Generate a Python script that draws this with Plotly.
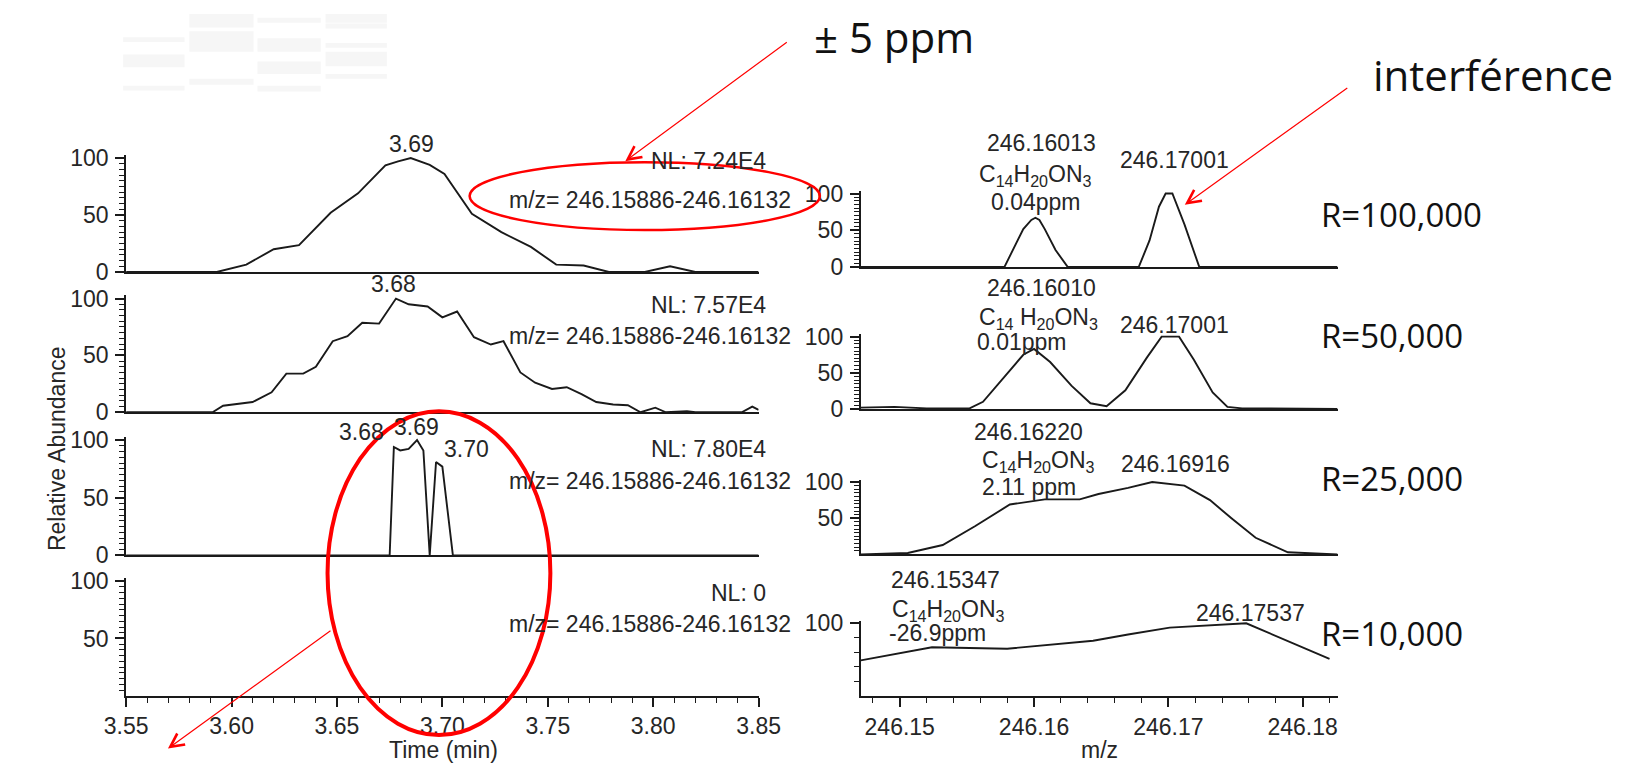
import plotly.graph_objects as go

# ---------------- data ----------------
# Left: extracted ion chromatograms (time in min, relative abundance)
t1 = [3.550, 3.593, 3.607, 3.620, 3.632, 3.647, 3.660, 3.673, 3.679, 3.685, 3.694, 3.701, 3.714, 3.728, 3.742, 3.754, 3.767, 3.779, 3.796, 3.808, 3.820, 3.850]
v1 = [0, 0, 6.5, 20, 23.5, 52, 69, 93.5, 97, 100, 94, 86, 51, 35, 22, 6.5, 5.7, 0, 0, 5, 0, 0]

t2 = [3.550, 3.591, 3.596, 3.610, 3.619, 3.626, 3.634, 3.640, 3.648, 3.655, 3.662, 3.670, 3.678, 3.684, 3.693, 3.700, 3.707, 3.715, 3.723, 3.729, 3.737, 3.744, 3.752, 3.759, 3.766, 3.773, 3.781, 3.788, 3.794, 3.801, 3.806, 3.816, 3.820, 3.842, 3.847, 3.850]
v2 = [0, 0, 5.7, 9, 17.6, 34, 34, 40, 62.5, 67, 78.7, 78, 100, 95, 93, 83.5, 88.6, 66, 59.6, 62.5, 35, 26, 20.5, 22, 16, 9, 6.8, 6.2, 0, 4, 0, 1, 0, 0, 5, 2]

t3 = [3.550, 3.675, 3.677, 3.680, 3.684, 3.688, 3.691, 3.694, 3.697, 3.700, 3.705, 3.850]
v3 = [0, 0, 94, 91, 92.4, 100, 91, 0, 81, 77, 0, 0]

t4 = []
v4 = []

# Right: mass spectra (m/z, relative abundance)
mz1 = [246.1471, 246.1578, 246.1592, 246.1598, 246.1601, 246.1604, 246.1608, 246.1616, 246.1625, 246.1678, 246.1686, 246.1693, 246.1698, 246.1703, 246.1712, 246.1723, 246.1826]
s1 = [0, 0, 51.5, 64, 67, 64, 51.5, 23, 0, 0, 36, 82, 100, 100, 58, 0, 0]

mz2 = [246.1470, 246.1496, 246.1520, 246.1552, 246.1562, 246.1576, 246.1592, 246.1600, 246.1612, 246.1628, 246.1642, 246.1654, 246.1668, 246.1684, 246.1695, 246.1708, 246.1719, 246.1733, 246.1744, 246.1755, 246.1826]
s2 = [2, 3, 1, 1, 10, 41, 75, 83, 65, 32, 8, 4, 26, 71, 100, 100, 68, 23, 3, 1, 0]

mz3 = [246.1471, 246.1506, 246.1532, 246.1556, 246.1582, 246.1608, 246.1634, 246.1648, 246.1670, 246.1688, 246.1712, 246.1731, 246.1747, 246.1765, 246.1789, 246.1826]
s3 = [0, 2, 13, 39, 69, 76, 76, 83.5, 92, 100, 95, 75, 50, 23, 3, 0]

mz4 = [246.1471, 246.1524, 246.1580, 246.1644, 246.1670, 246.1701, 246.1758, 246.1820]
s4 = [49, 67, 65, 76, 84.5, 94, 100, 51]

time_ticks = [3.55, 3.60, 3.65, 3.70, 3.75, 3.80, 3.85]
mz_ticks = [246.15, 246.16, 246.17, 246.18]

nl_labels = ["NL: 7.24E4", "NL: 7.57E4", "NL: 7.80E4", "NL: 0"]
range_label = "m/z= 246.15886-246.16132"
resolutions = ["R=100,000", "R=50,000", "R=25,000", "R=10,000"]
formula = "C<sub>14</sub>H<sub>20</sub>ON<sub>3</sub>"
formula2 = "C<sub>14</sub> H<sub>20</sub>ON<sub>3</sub>"

# ---------------- layout helpers ----------------
W, H = 1633, 780
INK = "#1a1a1a"
TXT = "#262626"
RED = "#ff0000"
FONT = "Liberation Sans, Arial, sans-serif"
BIG = "Open Sans, sans-serif"
TOP = 103.0


def px(x):
    return x / W


def py(y):
    return 1 - y / H


def ydom(px100, px0):
    top = px0 - TOP / 100.0 * (px0 - px100)
    return [py(px0), py(top)]


left_panels = [(151.7, 269.3), (296.7, 414.0), (442.7, 561.7), (588.3, 706.5)]
right_panels = [(188.3, 264.0), (336.0, 410.7), (486.0, 560.7), (631.7, 706.7)]
left_x = [px(107), px(757)]
right_x = [px(862), px(1352)]

fig = go.Figure()

left_data = [(t1, v1), (t2, v2), (t3, v3), (t4, v4)]
right_data = [(mz1, s1), (mz2, s2), (mz3, s3), (mz4, s4)]

for i, (xx, yy) in enumerate(left_data + right_data):
    k = i + 1
    fig.add_trace(go.Scatter(x=xx, y=yy, mode="lines",
                             line=dict(color=INK, width=1.9),
                             xaxis="x" if k == 1 else f"x{k}",
                             yaxis="y" if k == 1 else f"y{k}",
                             hoverinfo="skip"))

tickfont = dict(family=FONT, size=23, color=TXT)
axes = {}

left_ytick = [[0, 50, 100], [0, 50, 100], [0, 50, 100], [50, 100]]
right_ytick = [[0, 50, 100], [0, 50, 100], [50, 100], [100]]
right_minor = [[v for v in range(5, 100, 5) if v != 50]] * 3 + [[20, 40, 60, 80]]
left_minor = [v for v in range(5, 100, 5) if v != 50]

for i in range(8):
    k = i + 1
    left = i < 4
    j = i % 4
    xname = "xaxis" if k == 1 else f"xaxis{k}"
    yname = "yaxis" if k == 1 else f"yaxis{k}"
    ax_id = "x" if k == 1 else f"x{k}"
    ay_id = "y" if k == 1 else f"y{k}"
    bottom = j == 3
    xa = dict(domain=left_x if left else right_x,
              range=[3.55, 3.85] if left else [246.1471, 246.1826],
              anchor=ay_id, showline=True, linecolor=INK, linewidth=2,
              showgrid=False, zeroline=False, fixedrange=True)
    if bottom:
        xa.update(tickmode="array",
                  tickvals=time_ticks if left else mz_ticks,
                  ticktext=[f"{v:.2f}" for v in (time_ticks if left else mz_ticks)],
                  ticks="outside", ticklen=9, tickwidth=1.6, tickcolor=INK,
                  tickfont=tickfont,
                  minor=dict(tick0=3.55 if left else 246.15,
                             dtick=0.01 if left else 0.002,
                             ticks="outside", ticklen=5, tickwidth=1.4,
                             tickcolor=INK))
    else:
        xa.update(showticklabels=False, ticks="")
    dom = left_panels[j] if left else right_panels[j]
    ya = dict(domain=ydom(*dom), range=[0, TOP], anchor=ax_id,
              showline=True, linecolor=INK, linewidth=2,
              showgrid=False, zeroline=False, fixedrange=True,
              tickmode="array",
              tickvals=left_ytick[j] if left else right_ytick[j],
              ticks="outside", ticklen=9, tickwidth=1.5, tickcolor=INK,
              tickfont=tickfont, ticklabelstandoff=2,
              minor=dict(tickmode="array",
                         tickvals=left_minor if left else right_minor[j],
                         ticks="outside", ticklen=5, tickwidth=1.3,
                         tickcolor=INK))
    axes[xname] = xa
    axes[yname] = ya

fig.update_layout(**axes)

annotations = []


def text(t, x, y, size=23, xanchor="center", family=FONT, color=TXT):
    annotations.append(dict(text=t, x=px(x), y=py(y), xref="paper", yref="paper",
                            xanchor=xanchor, yanchor="middle", showarrow=False,
                            font=dict(family=family, size=size, color=color)))


# left peak labels
text("3.69", 400, 137)
text("3.68", 382, 282)
text("3.68", 349, 434)
text("3.69", 405, 429)
text("3.70", 457, 452)

# NL and m/z range labels
nl_y = [155, 303, 452, 600]
mz_y = [195, 335, 485, 632]
for j in range(4):
    text(nl_labels[j], 767, nl_y[j], xanchor="right")
    text(range_label, 792, mz_y[j], xanchor="right")

# axis titles
annotations.append(dict(text="Relative Abundance", x=px(36), y=py(452),
                        xref="paper", yref="paper", textangle=-90,
                        showarrow=False, xanchor="center", yanchor="middle",
                        font=dict(family=FONT, size=23, color=TXT)))
text("Time (min)", 433, 762)
text("m/z", 1107, 762)

# right peak labels
text("246.16013", 1048, 136)
text(formula, 1042, 170)
text("0.04ppm", 1042, 197)
text("246.17001", 1184, 154)

text("246.16010", 1048, 286)
text(formula2, 1045, 317)
text("0.01ppm", 1028, 341)
text("246.17001", 1184, 324)

text("246.16220", 1034, 434)
text(formula, 1045, 465)
text("2.11 ppm", 1035, 491)
text("246.16916", 1185, 467)

text("246.15347", 949, 587)
text(formula, 952, 619)
text("-26.9ppm", 941, 642)
text("246.17537", 1263, 621)

# resolution labels
res_y = [210, 335, 482, 642]
for j in range(4):
    text(resolutions[j], 1333, res_y[j], size=33, xanchor="left",
         family=BIG, color="#111111")

# call-out texts
text("± 5 ppm", 812, 26, size=42, xanchor="left", family=BIG, color="#111111")
text("interférence", 1386, 66, size=42, xanchor="left", family=BIG, color="#111111")

# red arrows
for head, tail in [((620, 155), (783, 35)), ((1195, 200), (1359, 82)),
                   ((150, 761), (314, 642))]:
    annotations.append(dict(text="", x=px(head[0]), y=py(head[1]),
                            xref="paper", yref="paper",
                            ax=tail[0] - head[0], ay=tail[1] - head[1],
                            showarrow=True, arrowhead=5, arrowsize=2.2,
                            arrowwidth=1.2, arrowcolor=RED, standoff=0))

shapes = []
# faint background blocks (scan artefact top-left)
blocks = [(104, 167, 27, 32), (104, 167, 45, 58), (104, 167, 77, 82),
          (172, 238, 3, 17), (172, 238, 21, 42), (172, 238, 70, 76),
          (242, 307, 7, 12), (242, 307, 28, 42), (242, 307, 52, 65), (242, 307, 77, 83),
          (312, 375, 3, 12), (312, 375, 13, 18), (312, 375, 33, 38), (312, 375, 42, 57),
          (312, 375, 65, 70)]
for x0, x1, y0, y1 in blocks:
    shapes.append(dict(type="rect", xref="paper", yref="paper",
                       x0=px(x0), x1=px(x1), y0=py(y1), y1=py(y0),
                       line=dict(width=0), fillcolor="#f6f6f6", layer="below"))
# ellipses
shapes.append(dict(type="circle", xref="paper", yref="paper",
                   x0=px(460), x1=px(820), y0=py(226), y1=py(156),
                   line=dict(color=RED, width=2.5)))
shapes.append(dict(type="circle", xref="paper", yref="paper",
                   x0=px(314), x1=px(543), y0=py(747), y1=py(413),
                   line=dict(color=RED, width=4)))

fig.update_layout(width=W, height=H, margin=dict(l=0, r=0, t=0, b=0),
                  paper_bgcolor="white", plot_bgcolor="white",
                  showlegend=False, annotations=annotations, shapes=shapes)

fig.write_html("out.html")
